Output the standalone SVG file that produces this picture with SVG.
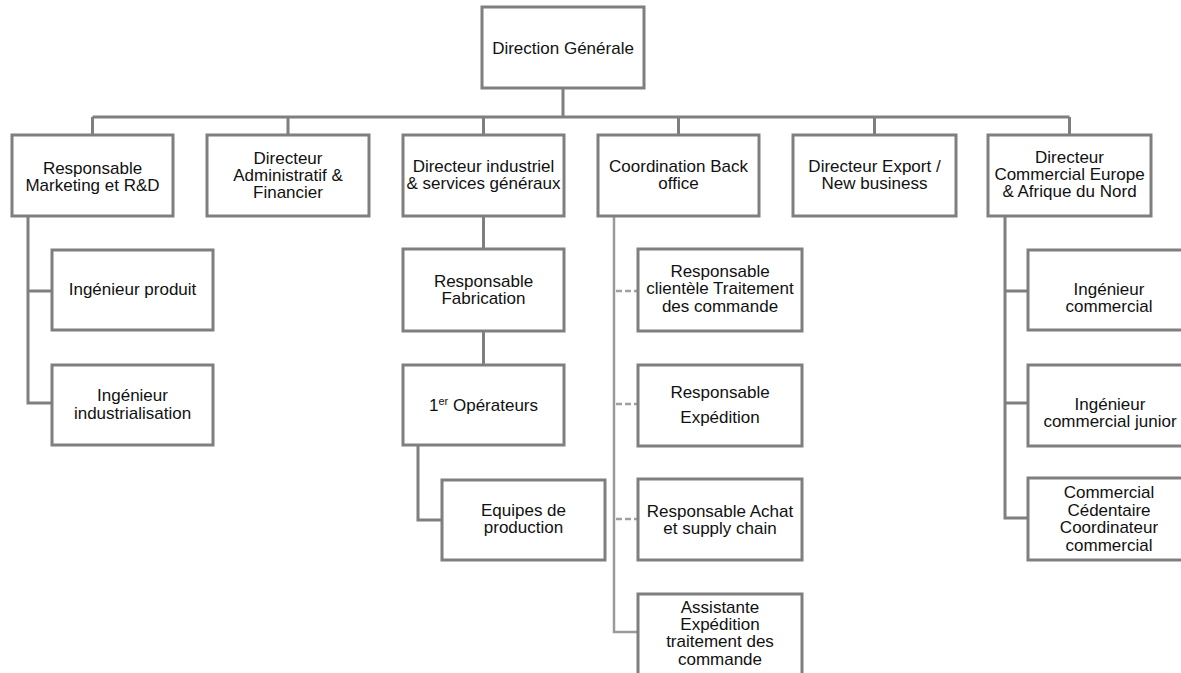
<svg xmlns="http://www.w3.org/2000/svg" width="1181" height="673" viewBox="0 0 1181 673">
  <style>
    .box { fill: #ffffff; stroke: #7f7f7f; stroke-width: 3; }
    .lbl { font-family: "Liberation Sans", Arial, sans-serif; font-size: 17px; fill: #111111; text-anchor: middle; }
    .wire { fill: none; stroke: #7f7f7f; stroke-width: 3; }
    .wire-lt { fill: none; stroke: #9a9a9a; stroke-width: 2.5; }
    .dash { fill: none; stroke: #a0a0a0; stroke-width: 2.5; stroke-dasharray: 6 3; }
  </style>
  <rect width="1181" height="673" fill="#ffffff"/>

  <!-- connectors -->
  <g id="connectors">
    <path class="wire" d="M563 88 V117 M92.5 117 H1069.5 M92.5 117 V135 M288 117 V135 M483.5 117 V135 M678.5 117 V135 M874.5 117 V135 M1069.5 117 V135"/>
    <path class="wire" d="M28 216 V403 H52 M28 291 H52"/>
    <path class="wire" d="M483.5 216 V249 M483.5 331 V365 M418 445 V520 H442"/>
    <path class="wire-lt" d="M614 216 V632 H638"/>
    <path class="dash" d="M616 291 H638 M616 404 H638 M616 519 H638"/>
    <path class="wire" d="M1005 216 V518 H1028 M1005 291 H1028 M1005 403 H1028"/>
  </g>

  <g id="direction-generale">
    <rect class="box" x="482" y="7" width="162" height="81"/>
    <text class="lbl" x="563" y="54">Direction Générale</text>
  </g>

  <g id="resp-marketing">
    <rect class="box" x="12" y="135" width="161" height="81"/>
    <text class="lbl" x="92.5" y="174">Responsable</text>
    <text class="lbl" x="92.5" y="191">Marketing et R&amp;D</text>
  </g>
  <g id="dir-admin">
    <rect class="box" x="207" y="135" width="162" height="81"/>
    <text class="lbl" x="288" y="164">Directeur</text>
    <text class="lbl" x="288" y="181">Administratif &amp;</text>
    <text class="lbl" x="288" y="198">Financier</text>
  </g>
  <g id="dir-industriel">
    <rect class="box" x="403" y="135" width="161" height="81"/>
    <text class="lbl" x="483.5" y="172">Directeur industriel</text>
    <text class="lbl" x="483.5" y="189">&amp; services généraux</text>
  </g>
  <g id="coord-back-office">
    <rect class="box" x="598" y="135" width="161" height="81"/>
    <text class="lbl" x="678.5" y="172">Coordination Back</text>
    <text class="lbl" x="678.5" y="189">office</text>
  </g>
  <g id="dir-export">
    <rect class="box" x="793" y="135" width="163" height="81"/>
    <text class="lbl" x="874.5" y="172">Directeur Export /</text>
    <text class="lbl" x="874.5" y="189">New business</text>
  </g>
  <g id="dir-commercial">
    <rect class="box" x="988" y="135" width="163" height="81"/>
    <text class="lbl" x="1069.5" y="163">Directeur</text>
    <text class="lbl" x="1069.5" y="180">Commercial Europe</text>
    <text class="lbl" x="1069.5" y="197">&amp; Afrique du Nord</text>
  </g>

  <g id="ing-produit">
    <rect class="box" x="52" y="250" width="161" height="80"/>
    <text class="lbl" x="132.5" y="295">Ingénieur  produit</text>
  </g>
  <g id="ing-industrialisation">
    <rect class="box" x="52" y="365" width="161" height="80"/>
    <text class="lbl" x="132.5" y="401">Ingénieur</text>
    <text class="lbl" x="132.5" y="419">industrialisation</text>
  </g>

  <g id="resp-fabrication">
    <rect class="box" x="403" y="249" width="161" height="82"/>
    <text class="lbl" x="483.5" y="287">Responsable</text>
    <text class="lbl" x="483.5" y="304">Fabrication</text>
  </g>
  <g id="operateurs">
    <rect class="box" x="403" y="365" width="161" height="80"/>
    <text class="lbl" x="483.5" y="411">1<tspan font-size="11" dy="-6">er</tspan><tspan dy="6"> Opérateurs</tspan></text>
  </g>
  <g id="equipes-production">
    <rect class="box" x="442" y="480" width="163" height="80"/>
    <text class="lbl" x="523.5" y="516">Equipes de</text>
    <text class="lbl" x="523.5" y="533">production</text>
  </g>

  <g id="resp-clientele">
    <rect class="box" x="638" y="249" width="164" height="82"/>
    <text class="lbl" x="720" y="277">Responsable</text>
    <text class="lbl" x="720" y="294">clientèle Traitement</text>
    <text class="lbl" x="720" y="312">des commande</text>
  </g>
  <g id="resp-expedition">
    <rect class="box" x="638" y="365" width="164" height="81"/>
    <text class="lbl" x="720" y="398">Responsable</text>
    <text class="lbl" x="720" y="423">Expédition</text>
  </g>
  <g id="resp-achat">
    <rect class="box" x="638" y="479" width="164" height="81"/>
    <text class="lbl" x="720" y="517">Responsable Achat</text>
    <text class="lbl" x="720" y="534">et supply  chain</text>
  </g>
  <g id="assistante-expedition">
    <rect class="box" x="638" y="594" width="164" height="85"/>
    <text class="lbl" x="720" y="613">Assistante</text>
    <text class="lbl" x="720" y="630">Expédition</text>
    <text class="lbl" x="720" y="647">traitement des</text>
    <text class="lbl" x="720" y="665">commande</text>
  </g>

  <g id="ing-commercial">
    <rect class="box" x="1028" y="250" width="163" height="80"/>
    <text class="lbl" x="1109" y="295">Ingénieur</text>
    <text class="lbl" x="1109" y="312">commercial</text>
  </g>
  <g id="ing-commercial-junior">
    <rect class="box" x="1028" y="365" width="163" height="81"/>
    <text class="lbl" x="1110" y="410">Ingénieur</text>
    <text class="lbl" x="1110" y="427">commercial junior</text>
  </g>
  <g id="commercial-sedentaire">
    <rect class="box" x="1028" y="478" width="163" height="82"/>
    <text class="lbl" x="1109" y="498">Commercial</text>
    <text class="lbl" x="1109" y="516">Cédentaire</text>
    <text class="lbl" x="1109" y="533">Coordinateur</text>
    <text class="lbl" x="1109" y="551">commercial</text>
  </g>
</svg>
